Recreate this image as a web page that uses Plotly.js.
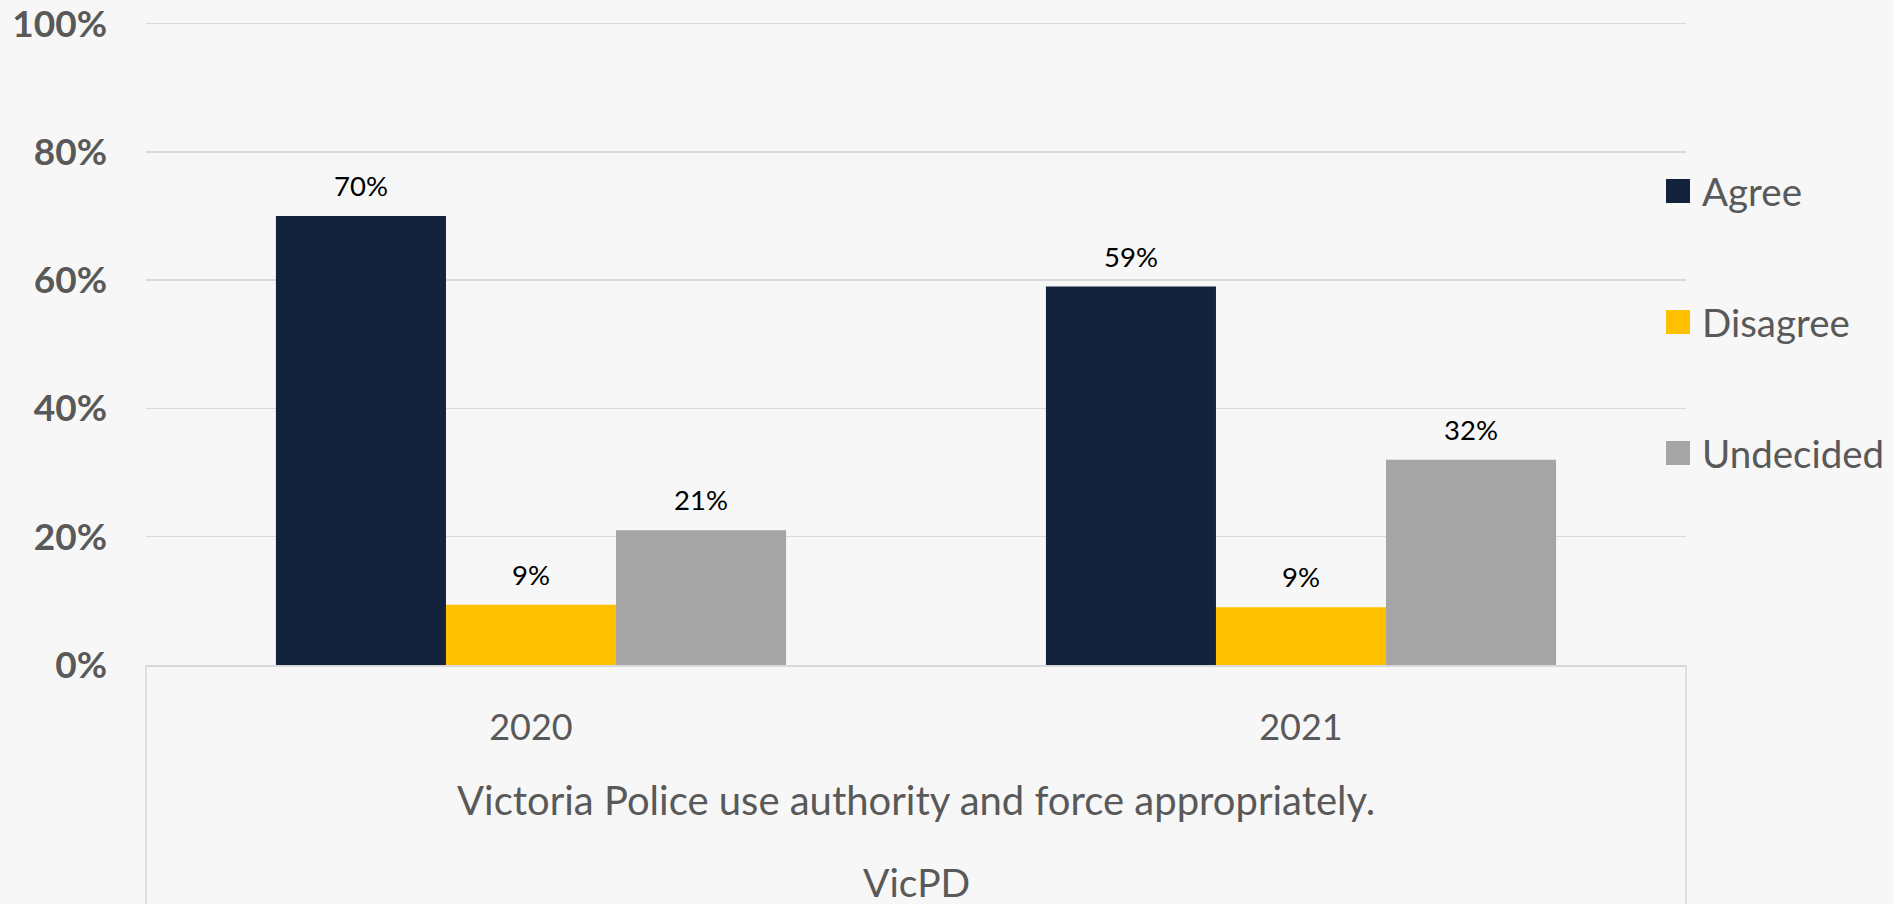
<!DOCTYPE html>
<html>
<head>
<meta charset="utf-8">
<script src="https://cdn.plot.ly/plotly-3.0.1.min.js"></script>
<style>
  html, body { margin: 0; padding: 0; background: #f7f7f7; }
  #chart { width: 1893px; height: 904px; }
</style>
</head>
<body>
<div id="chart"></div>
<script>
// ---- data ----
const categories = ['2020', '2021'];
const seriesNames = ['Agree', 'Disagree', 'Undecided'];
const agree = [0.70, 0.59];
const disagree = [0.094, 0.09];
const undecided = [0.21, 0.32];
const yTickValues = [0, 0.2, 0.4, 0.6, 0.8, 1.0];
const yTickLabels = ['0%', '20%', '40%', '60%', '80%', '100%'];
const axisLevel2 = 'Victoria Police use authority and force appropriately.';
const axisLevel3 = 'VicPD';

// ---- style ----
const colors = ['#14233C', '#FFC000', '#A5A5A5'];
const FONT = 'Lato, "Open Sans", sans-serif';
const GREY = '#595959';
const GRID = '#d9d9d9';
const BARGAP = 0.3375;
const YMAX = 1.004;
const PLOT_H = 644;

const seriesValues = [agree, disagree, undecided];
const pct = v => Math.round(v * 100) + '%';

const traces = seriesNames.map((name, k) => ({
  type: 'bar',
  name: name,
  x: categories,
  y: seriesValues[k],
  marker: { color: colors[k], line: { width: 0 } },
  hoverinfo: 'x+y+name',
  showlegend: false
}));

// paper y for a pixel distance from the y=0 line
const py = px => px / PLOT_H;

const nS = seriesNames.length;
const barW = (1 - BARGAP) / nS;
const annotations = [];
// data labels above each bar
seriesValues.forEach((vals, k) => {
  vals.forEach((v, i) => {
    annotations.push({
      xref: 'x', yref: 'y',
      x: i + (k - (nS - 1) / 2) * barW,
      y: v,
      text: pct(v),
      showarrow: false,
      xanchor: 'center', yanchor: 'bottom',
      yshift: 12,
      font: { family: FONT, size: 27.5, color: '#000000' }
    });
  });
});
// multi-level axis labels
annotations.push({
  xref: 'paper', yref: 'paper', x: 0.5, y: py(-135),
  text: axisLevel2, showarrow: false, xanchor: 'center', yanchor: 'middle',
  font: { family: FONT, size: 40, color: GREY }
});
annotations.push({
  xref: 'paper', yref: 'paper', x: 0.5, y: py(-217),
  text: axisLevel3, showarrow: false, xanchor: 'center', yanchor: 'middle',
  font: { family: FONT, size: 39, color: GREY }
});

// legend (manual, large swatches)
const legendPx = [474, 343, 212]; // distance above the 0% line
const shapes = [];
seriesNames.forEach((name, k) => {
  shapes.push({
    type: 'rect', xref: 'paper', yref: 'paper',
    xsizemode: 'pixel', ysizemode: 'pixel',
    xanchor: 1, yanchor: py(legendPx[k]),
    x0: -20, x1: 4, y0: -12, y1: 12,
    fillcolor: colors[k], line: { width: 0 }
  });
  annotations.push({
    xref: 'paper', yref: 'paper', x: 1, y: py(legendPx[k]),
    xanchor: 'left', yanchor: 'middle', xshift: 14,
    text: name, showarrow: false,
    font: { family: FONT, size: 38.5, color: GREY }
  });
});
// category box side lines
[0, 1].forEach(px => {
  shapes.push({
    type: 'line', xref: 'paper', yref: 'paper',
    x0: px, x1: px, y0: 0, y1: -0.5,
    line: { color: GRID, width: 1.5 }
  });
});

const layout = {
  width: 1893, height: 904,
  paper_bgcolor: '#f7f7f7',
  plot_bgcolor: '#f7f7f7',
  margin: { l: 146, r: 207, t: 21, b: 239 },
  barmode: 'group',
  bargap: BARGAP,
  bargroupgap: 0,
  showlegend: false,
  xaxis: {
    type: 'category',
    showgrid: false,
    showline: true, linecolor: GRID, linewidth: 1.5,
    ticks: '',
    ticklabelstandoff: 30,
    tickfont: { family: FONT, size: 36, color: GREY },
    fixedrange: true
  },
  yaxis: {
    range: [0, YMAX],
    tickvals: yTickValues,
    ticktext: yTickLabels,
    showgrid: true, gridcolor: GRID, gridwidth: 1.5,
    zeroline: false,
    showline: false,
    ticks: '',
    ticklabelstandoff: 38,
    ticklabeloverflow: 'allow',
    tickfont: { family: FONT, size: 37, color: GREY, weight: 'bold' },
    fixedrange: true
  },
  annotations: annotations,
  shapes: shapes
};

Plotly.newPlot('chart', traces, layout, { displayModeBar: false, staticPlot: true });
</script>
</body>
</html>
